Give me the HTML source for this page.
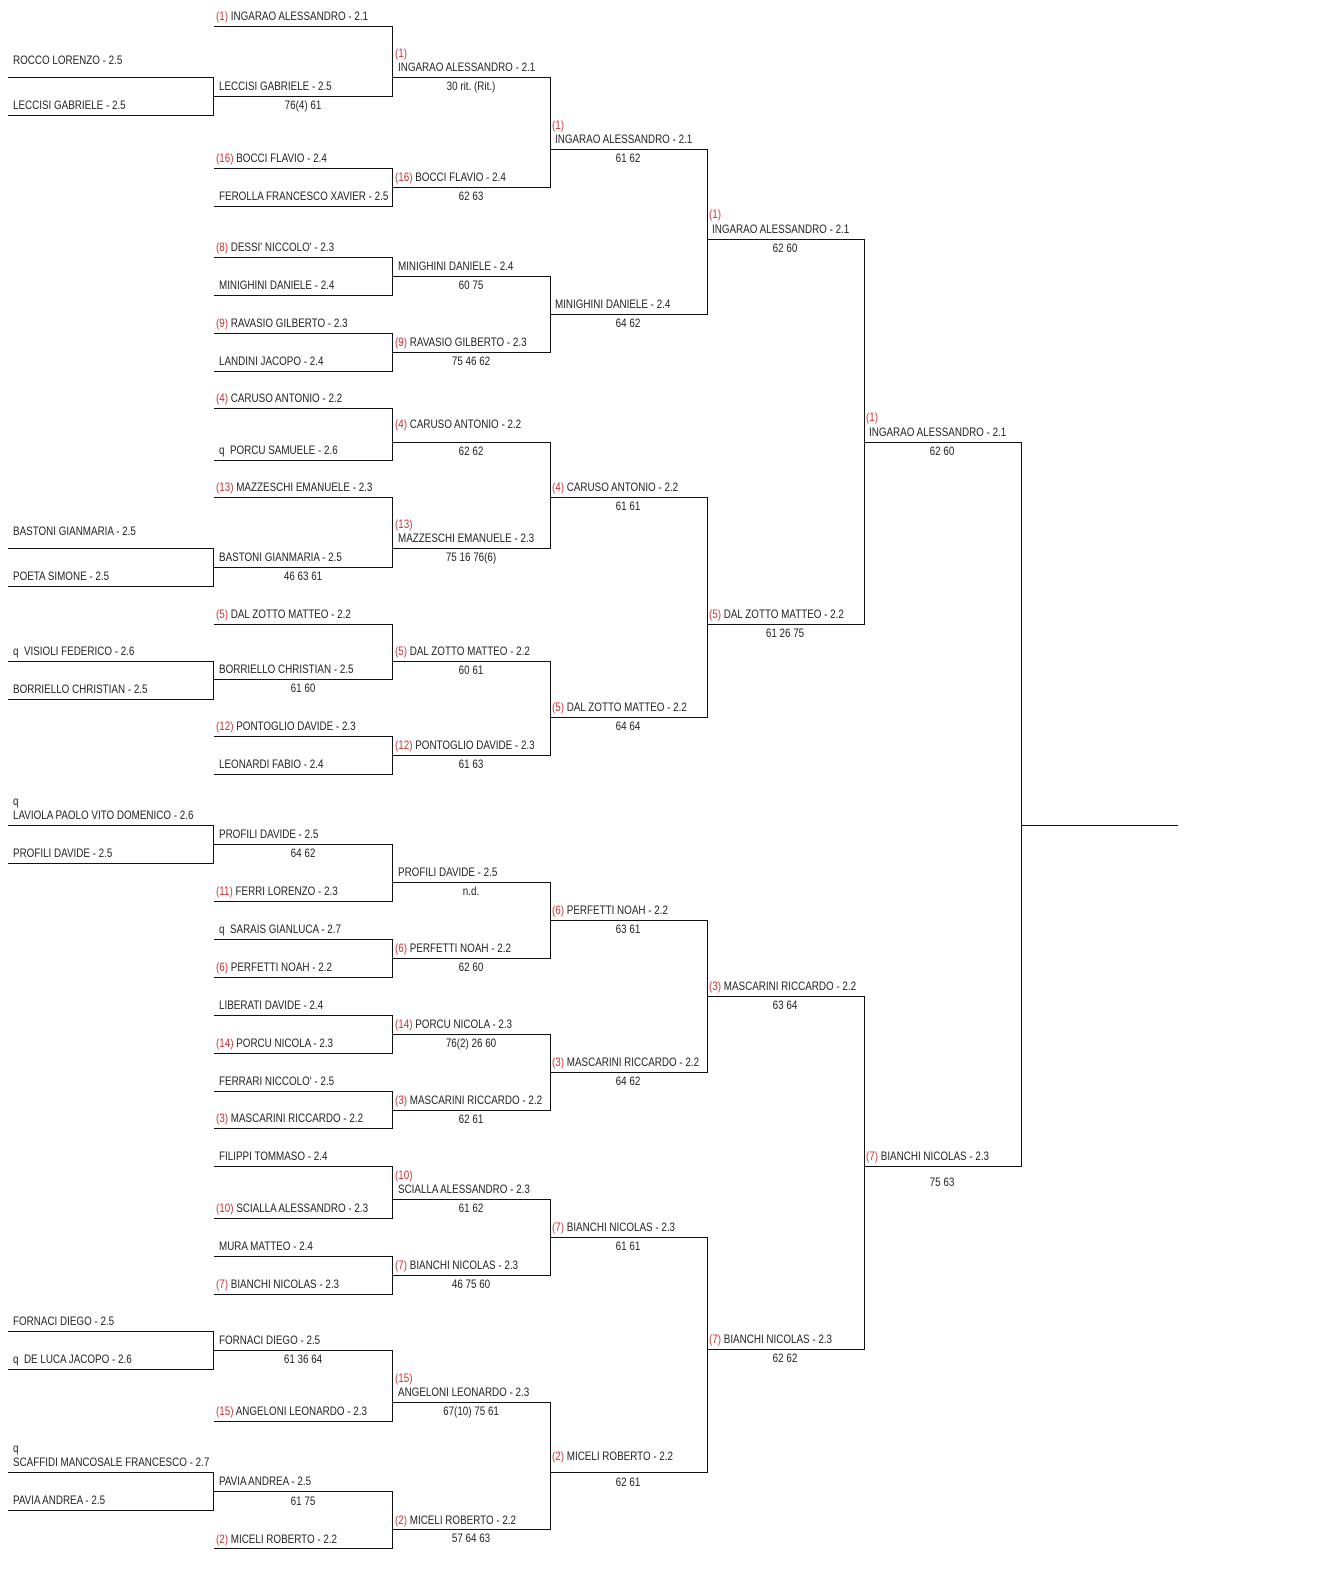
<!DOCTYPE html>
<html><head><meta charset="utf-8">
<style>
html,body{margin:0;padding:0;background:#fff;}
body{width:1336px;height:1575px;position:relative;overflow:hidden;font-family:"Liberation Sans",sans-serif;}
.h{position:absolute;height:1px;background:#111;}
.v{position:absolute;width:1px;background:#111;}
.t{position:absolute;white-space:nowrap;font-size:12px;line-height:14px;color:#222;transform:scaleX(.82);transform-origin:0 50%;}
.c{position:absolute;white-space:nowrap;font-size:12px;line-height:14px;color:#222;transform:translateX(-50%) scaleX(.82);}
.r{color:#d32f2f;}
</style></head><body>

<!-- column 0 -->
<div class="t" style="left:13px;top:53px">ROCCO LORENZO - 2.5</div>
<div class="h" style="left:8px;width:206px;top:77px"></div>
<div class="t" style="left:13px;top:98px">LECCISI GABRIELE - 2.5</div>
<div class="h" style="left:8px;width:206px;top:115px"></div>
<div class="v" style="left:213px;top:77px;height:39px"></div>

<div class="t" style="left:13px;top:524px">BASTONI GIANMARIA - 2.5</div>
<div class="h" style="left:8px;width:206px;top:548px"></div>
<div class="t" style="left:13px;top:569px">POETA SIMONE - 2.5</div>
<div class="h" style="left:8px;width:206px;top:586px"></div>
<div class="v" style="left:213px;top:548px;height:39px"></div>

<div class="t" style="left:13px;top:644px">q&nbsp; VISIOLI FEDERICO - 2.6</div>
<div class="h" style="left:8px;width:206px;top:661px"></div>
<div class="t" style="left:13px;top:682px">BORRIELLO CHRISTIAN - 2.5</div>
<div class="h" style="left:8px;width:206px;top:699px"></div>
<div class="v" style="left:213px;top:661px;height:39px"></div>

<div class="t" style="left:13px;top:794px">q</div>
<div class="t" style="left:13px;top:808px">LAVIOLA PAOLO VITO DOMENICO - 2.6</div>
<div class="h" style="left:8px;width:206px;top:825px"></div>
<div class="t" style="left:13px;top:846px">PROFILI DAVIDE - 2.5</div>
<div class="h" style="left:8px;width:206px;top:863px"></div>
<div class="v" style="left:213px;top:825px;height:39px"></div>

<div class="t" style="left:13px;top:1314px">FORNACI DIEGO - 2.5</div>
<div class="h" style="left:8px;width:206px;top:1331px"></div>
<div class="t" style="left:13px;top:1352px">q&nbsp; DE LUCA JACOPO - 2.6</div>
<div class="h" style="left:8px;width:206px;top:1369px"></div>
<div class="v" style="left:213px;top:1331px;height:39px"></div>

<div class="t" style="left:13px;top:1441px">q</div>
<div class="t" style="left:13px;top:1455px">SCAFFIDI MANCOSALE FRANCESCO - 2.7</div>
<div class="h" style="left:8px;width:206px;top:1472px"></div>
<div class="t" style="left:13px;top:1493px">PAVIA ANDREA - 2.5</div>
<div class="h" style="left:8px;width:206px;top:1510px"></div>
<div class="v" style="left:213px;top:1472px;height:39px"></div>

<!-- column 1 -->
<div class="t" style="left:216px;top:9px"><span class="r">(1)</span> INGARAO ALESSANDRO - 2.1</div>
<div class="h" style="left:214px;width:179px;top:26px"></div>
<div class="t" style="left:219px;top:79px">LECCISI GABRIELE - 2.5</div>
<div class="h" style="left:214px;width:179px;top:96px"></div>
<div class="c" style="left:303px;top:98px">76(4) 61</div>
<div class="v" style="left:392px;top:26px;height:71px"></div>

<div class="t" style="left:216px;top:151px"><span class="r">(16)</span> BOCCI FLAVIO - 2.4</div>
<div class="h" style="left:214px;width:179px;top:168px"></div>
<div class="t" style="left:219px;top:189px">FEROLLA FRANCESCO XAVIER - 2.5</div>
<div class="h" style="left:214px;width:179px;top:206px"></div>
<div class="v" style="left:392px;top:168px;height:39px"></div>

<div class="t" style="left:216px;top:240px"><span class="r">(8)</span> DESSI' NICCOLO' - 2.3</div>
<div class="h" style="left:214px;width:179px;top:257px"></div>
<div class="t" style="left:219px;top:278px">MINIGHINI DANIELE - 2.4</div>
<div class="h" style="left:214px;width:179px;top:295px"></div>
<div class="v" style="left:392px;top:257px;height:39px"></div>

<div class="t" style="left:216px;top:316px"><span class="r">(9)</span> RAVASIO GILBERTO - 2.3</div>
<div class="h" style="left:214px;width:179px;top:333px"></div>
<div class="t" style="left:219px;top:354px">LANDINI JACOPO - 2.4</div>
<div class="h" style="left:214px;width:179px;top:371px"></div>
<div class="v" style="left:392px;top:333px;height:39px"></div>

<div class="t" style="left:216px;top:391px"><span class="r">(4)</span> CARUSO ANTONIO - 2.2</div>
<div class="h" style="left:214px;width:179px;top:408px"></div>
<div class="t" style="left:219px;top:443px">q&nbsp; PORCU SAMUELE - 2.6</div>
<div class="h" style="left:214px;width:179px;top:460px"></div>
<div class="v" style="left:392px;top:408px;height:53px"></div>

<div class="t" style="left:216px;top:480px"><span class="r">(13)</span> MAZZESCHI EMANUELE - 2.3</div>
<div class="h" style="left:214px;width:179px;top:497px"></div>
<div class="t" style="left:219px;top:550px">BASTONI GIANMARIA - 2.5</div>
<div class="h" style="left:214px;width:179px;top:567px"></div>
<div class="c" style="left:303px;top:569px">46 63 61</div>
<div class="v" style="left:392px;top:497px;height:71px"></div>

<div class="t" style="left:216px;top:607px"><span class="r">(5)</span> DAL ZOTTO MATTEO - 2.2</div>
<div class="h" style="left:214px;width:179px;top:624px"></div>
<div class="t" style="left:219px;top:662px">BORRIELLO CHRISTIAN - 2.5</div>
<div class="h" style="left:214px;width:179px;top:679px"></div>
<div class="c" style="left:303px;top:681px">61 60</div>
<div class="v" style="left:392px;top:624px;height:56px"></div>

<div class="t" style="left:216px;top:719px"><span class="r">(12)</span> PONTOGLIO DAVIDE - 2.3</div>
<div class="h" style="left:214px;width:179px;top:736px"></div>
<div class="t" style="left:219px;top:757px">LEONARDI FABIO - 2.4</div>
<div class="h" style="left:214px;width:179px;top:774px"></div>
<div class="v" style="left:392px;top:736px;height:39px"></div>

<div class="t" style="left:219px;top:827px">PROFILI DAVIDE - 2.5</div>
<div class="h" style="left:214px;width:179px;top:844px"></div>
<div class="c" style="left:303px;top:846px">64 62</div>
<div class="t" style="left:216px;top:884px"><span class="r">(11)</span> FERRI LORENZO - 2.3</div>
<div class="h" style="left:214px;width:179px;top:901px"></div>
<div class="v" style="left:392px;top:844px;height:58px"></div>

<div class="t" style="left:219px;top:922px">q&nbsp; SARAIS GIANLUCA - 2.7</div>
<div class="h" style="left:214px;width:179px;top:939px"></div>
<div class="t" style="left:216px;top:960px"><span class="r">(6)</span> PERFETTI NOAH - 2.2</div>
<div class="h" style="left:214px;width:179px;top:977px"></div>
<div class="v" style="left:392px;top:939px;height:39px"></div>

<div class="t" style="left:219px;top:998px">LIBERATI DAVIDE - 2.4</div>
<div class="h" style="left:214px;width:179px;top:1015px"></div>
<div class="t" style="left:216px;top:1036px"><span class="r">(14)</span> PORCU NICOLA - 2.3</div>
<div class="h" style="left:214px;width:179px;top:1053px"></div>
<div class="v" style="left:392px;top:1015px;height:39px"></div>

<div class="t" style="left:219px;top:1074px">FERRARI NICCOLO' - 2.5</div>
<div class="h" style="left:214px;width:179px;top:1091px"></div>
<div class="t" style="left:216px;top:1111px"><span class="r">(3)</span> MASCARINI RICCARDO - 2.2</div>
<div class="h" style="left:214px;width:179px;top:1128px"></div>
<div class="v" style="left:392px;top:1091px;height:38px"></div>

<div class="t" style="left:219px;top:1149px">FILIPPI TOMMASO - 2.4</div>
<div class="h" style="left:214px;width:179px;top:1166px"></div>
<div class="t" style="left:216px;top:1201px"><span class="r">(10)</span> SCIALLA ALESSANDRO - 2.3</div>
<div class="h" style="left:214px;width:179px;top:1218px"></div>
<div class="v" style="left:392px;top:1166px;height:53px"></div>

<div class="t" style="left:219px;top:1239px">MURA MATTEO - 2.4</div>
<div class="h" style="left:214px;width:179px;top:1256px"></div>
<div class="t" style="left:216px;top:1277px"><span class="r">(7)</span> BIANCHI NICOLAS - 2.3</div>
<div class="h" style="left:214px;width:179px;top:1294px"></div>
<div class="v" style="left:392px;top:1256px;height:39px"></div>

<div class="t" style="left:219px;top:1333px">FORNACI DIEGO - 2.5</div>
<div class="h" style="left:214px;width:179px;top:1350px"></div>
<div class="c" style="left:303px;top:1352px">61 36 64</div>
<div class="t" style="left:216px;top:1404px"><span class="r">(15)</span> ANGELONI LEONARDO - 2.3</div>
<div class="h" style="left:214px;width:179px;top:1421px"></div>
<div class="v" style="left:392px;top:1350px;height:72px"></div>

<div class="t" style="left:219px;top:1474px">PAVIA ANDREA - 2.5</div>
<div class="h" style="left:214px;width:179px;top:1491px"></div>
<div class="c" style="left:303px;top:1494px">61 75</div>
<div class="t" style="left:216px;top:1532px"><span class="r">(2)</span> MICELI ROBERTO - 2.2</div>
<div class="h" style="left:214px;width:179px;top:1548px"></div>
<div class="v" style="left:392px;top:1491px;height:58px"></div>

<!-- column 2 -->
<div class="t r" style="left:395px;top:46px">(1)</div>
<div class="t" style="left:398px;top:60px">INGARAO ALESSANDRO - 2.1</div>
<div class="h" style="left:393px;width:158px;top:77px"></div>
<div class="c" style="left:471px;top:79px">30 rit. (Rit.)</div>
<div class="t" style="left:395px;top:170px"><span class="r">(16)</span> BOCCI FLAVIO - 2.4</div>
<div class="h" style="left:393px;width:158px;top:187px"></div>
<div class="c" style="left:471px;top:189px">62 63</div>
<div class="v" style="left:550px;top:77px;height:111px"></div>

<div class="t" style="left:398px;top:259px">MINIGHINI DANIELE - 2.4</div>
<div class="h" style="left:393px;width:158px;top:276px"></div>
<div class="c" style="left:471px;top:278px">60 75</div>
<div class="t" style="left:395px;top:335px"><span class="r">(9)</span> RAVASIO GILBERTO - 2.3</div>
<div class="h" style="left:393px;width:158px;top:352px"></div>
<div class="c" style="left:471px;top:354px">75 46 62</div>
<div class="v" style="left:550px;top:276px;height:77px"></div>

<div class="t" style="left:395px;top:417px"><span class="r">(4)</span> CARUSO ANTONIO - 2.2</div>
<div class="h" style="left:393px;width:158px;top:442px"></div>
<div class="c" style="left:471px;top:444px">62 62</div>
<div class="t r" style="left:395px;top:517px">(13)</div>
<div class="t" style="left:398px;top:531px">MAZZESCHI EMANUELE - 2.3</div>
<div class="h" style="left:393px;width:158px;top:548px"></div>
<div class="c" style="left:471px;top:550px">75 16 76(6)</div>
<div class="v" style="left:550px;top:442px;height:107px"></div>

<div class="t" style="left:395px;top:644px"><span class="r">(5)</span> DAL ZOTTO MATTEO - 2.2</div>
<div class="h" style="left:393px;width:158px;top:661px"></div>
<div class="c" style="left:471px;top:663px">60 61</div>
<div class="t" style="left:395px;top:738px"><span class="r">(12)</span> PONTOGLIO DAVIDE - 2.3</div>
<div class="h" style="left:393px;width:158px;top:755px"></div>
<div class="c" style="left:471px;top:757px">61 63</div>
<div class="v" style="left:550px;top:661px;height:95px"></div>

<div class="t" style="left:398px;top:865px">PROFILI DAVIDE - 2.5</div>
<div class="h" style="left:393px;width:158px;top:882px"></div>
<div class="c" style="left:471px;top:884px">n.d.</div>
<div class="t" style="left:395px;top:941px"><span class="r">(6)</span> PERFETTI NOAH - 2.2</div>
<div class="h" style="left:393px;width:158px;top:958px"></div>
<div class="c" style="left:471px;top:960px">62 60</div>
<div class="v" style="left:550px;top:882px;height:77px"></div>

<div class="t" style="left:395px;top:1017px"><span class="r">(14)</span> PORCU NICOLA - 2.3</div>
<div class="h" style="left:393px;width:158px;top:1034px"></div>
<div class="c" style="left:471px;top:1036px">76(2) 26 60</div>
<div class="t" style="left:395px;top:1093px"><span class="r">(3)</span> MASCARINI RICCARDO - 2.2</div>
<div class="h" style="left:393px;width:158px;top:1110px"></div>
<div class="c" style="left:471px;top:1112px">62 61</div>
<div class="v" style="left:550px;top:1034px;height:77px"></div>

<div class="t r" style="left:395px;top:1168px">(10)</div>
<div class="t" style="left:398px;top:1182px">SCIALLA ALESSANDRO - 2.3</div>
<div class="h" style="left:393px;width:158px;top:1199px"></div>
<div class="c" style="left:471px;top:1201px">61 62</div>
<div class="t" style="left:395px;top:1258px"><span class="r">(7)</span> BIANCHI NICOLAS - 2.3</div>
<div class="h" style="left:393px;width:158px;top:1275px"></div>
<div class="c" style="left:471px;top:1277px">46 75 60</div>
<div class="v" style="left:550px;top:1199px;height:77px"></div>

<div class="t r" style="left:395px;top:1371px">(15)</div>
<div class="t" style="left:398px;top:1385px">ANGELONI LEONARDO - 2.3</div>
<div class="h" style="left:393px;width:158px;top:1402px"></div>
<div class="c" style="left:471px;top:1404px">67(10) 75 61</div>
<div class="t" style="left:395px;top:1513px"><span class="r">(2)</span> MICELI ROBERTO - 2.2</div>
<div class="h" style="left:393px;width:158px;top:1529px"></div>
<div class="c" style="left:471px;top:1531px">57 64 63</div>
<div class="v" style="left:550px;top:1402px;height:128px"></div>

<!-- column 3 -->
<div class="t r" style="left:552px;top:118px">(1)</div>
<div class="t" style="left:555px;top:132px">INGARAO ALESSANDRO - 2.1</div>
<div class="h" style="left:550px;width:158px;top:149px"></div>
<div class="c" style="left:628px;top:151px">61 62</div>
<div class="t" style="left:555px;top:297px">MINIGHINI DANIELE - 2.4</div>
<div class="h" style="left:550px;width:158px;top:314px"></div>
<div class="c" style="left:628px;top:316px">64 62</div>
<div class="v" style="left:707px;top:149px;height:166px"></div>

<div class="t" style="left:552px;top:480px"><span class="r">(4)</span> CARUSO ANTONIO - 2.2</div>
<div class="h" style="left:550px;width:158px;top:497px"></div>
<div class="c" style="left:628px;top:499px">61 61</div>
<div class="t" style="left:552px;top:700px"><span class="r">(5)</span> DAL ZOTTO MATTEO - 2.2</div>
<div class="h" style="left:550px;width:158px;top:717px"></div>
<div class="c" style="left:628px;top:719px">64 64</div>
<div class="v" style="left:707px;top:497px;height:221px"></div>

<div class="t" style="left:552px;top:903px"><span class="r">(6)</span> PERFETTI NOAH - 2.2</div>
<div class="h" style="left:550px;width:158px;top:920px"></div>
<div class="c" style="left:628px;top:922px">63 61</div>
<div class="t" style="left:552px;top:1055px"><span class="r">(3)</span> MASCARINI RICCARDO - 2.2</div>
<div class="h" style="left:550px;width:158px;top:1072px"></div>
<div class="c" style="left:628px;top:1074px">64 62</div>
<div class="v" style="left:707px;top:920px;height:153px"></div>

<div class="t" style="left:552px;top:1220px"><span class="r">(7)</span> BIANCHI NICOLAS - 2.3</div>
<div class="h" style="left:550px;width:158px;top:1237px"></div>
<div class="c" style="left:628px;top:1239px">61 61</div>
<div class="t" style="left:552px;top:1449px"><span class="r">(2)</span> MICELI ROBERTO - 2.2</div>
<div class="h" style="left:550px;width:158px;top:1472px"></div>
<div class="c" style="left:628px;top:1475px">62 61</div>
<div class="v" style="left:707px;top:1237px;height:236px"></div>

<!-- column 4 -->
<div class="t r" style="left:709px;top:207px">(1)</div>
<div class="t" style="left:712px;top:222px">INGARAO ALESSANDRO - 2.1</div>
<div class="h" style="left:707px;width:158px;top:239px"></div>
<div class="c" style="left:785px;top:241px">62 60</div>
<div class="t" style="left:709px;top:607px"><span class="r">(5)</span> DAL ZOTTO MATTEO - 2.2</div>
<div class="h" style="left:707px;width:158px;top:624px"></div>
<div class="c" style="left:785px;top:626px">61 26 75</div>
<div class="v" style="left:864px;top:239px;height:386px"></div>

<div class="t" style="left:709px;top:979px"><span class="r">(3)</span> MASCARINI RICCARDO - 2.2</div>
<div class="h" style="left:707px;width:158px;top:996px"></div>
<div class="c" style="left:785px;top:998px">63 64</div>
<div class="t" style="left:709px;top:1332px"><span class="r">(7)</span> BIANCHI NICOLAS - 2.3</div>
<div class="h" style="left:707px;width:158px;top:1349px"></div>
<div class="c" style="left:785px;top:1351px">62 62</div>
<div class="v" style="left:864px;top:996px;height:354px"></div>

<!-- column 5 -->
<div class="t r" style="left:866px;top:410px">(1)</div>
<div class="t" style="left:869px;top:425px">INGARAO ALESSANDRO - 2.1</div>
<div class="h" style="left:864px;width:158px;top:442px"></div>
<div class="c" style="left:942px;top:444px">62 60</div>
<div class="t" style="left:866px;top:1149px"><span class="r">(7)</span> BIANCHI NICOLAS - 2.3</div>
<div class="h" style="left:864px;width:158px;top:1166px"></div>
<div class="c" style="left:942px;top:1175px">75 63</div>
<div class="v" style="left:1021px;top:442px;height:725px"></div>

<!-- final -->
<div class="h" style="left:1021px;width:157px;top:825px"></div>

</body></html>
